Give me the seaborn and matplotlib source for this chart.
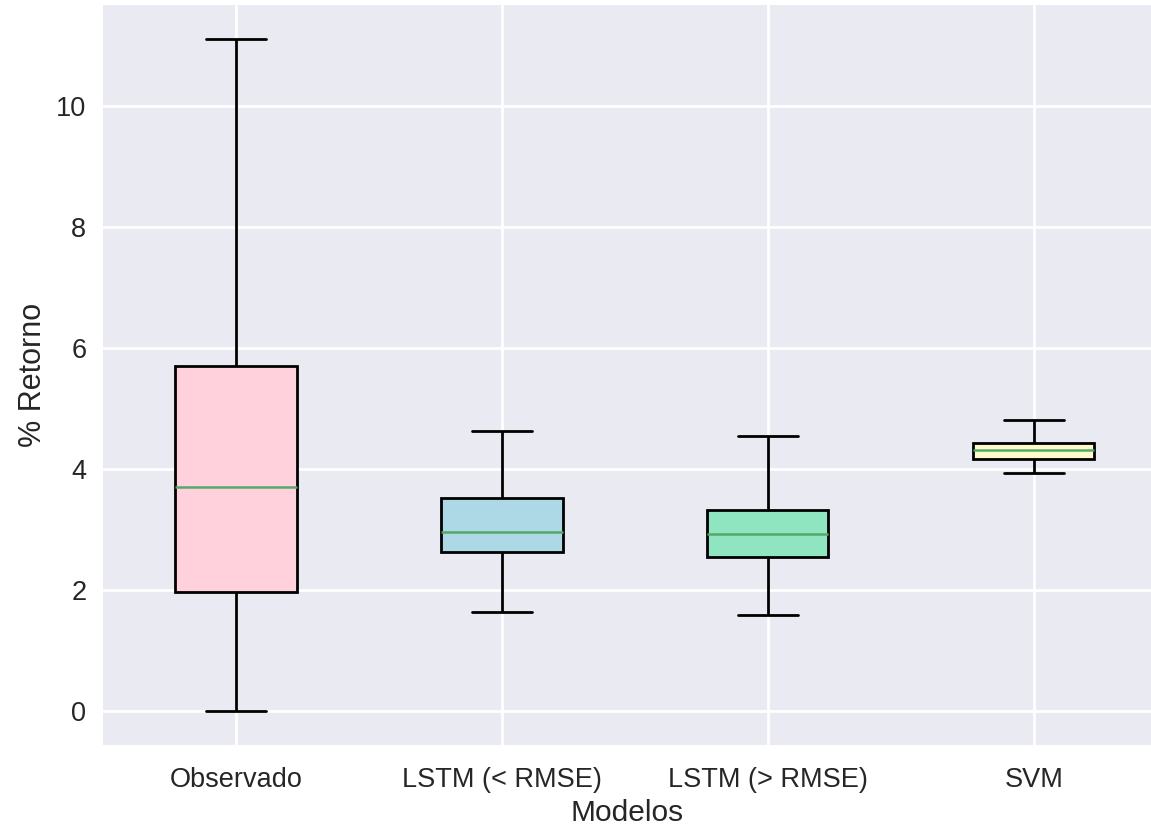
import numpy as np
import pandas as pd
import matplotlib
matplotlib.use("Agg")
import matplotlib.pyplot as plt
import seaborn as sns

categories = ["Observado", "LSTM (< RMSE)", "LSTM (> RMSE)", "SVM"]
# five-number summaries: min, q1, median, q3, max
obs_vals = [0.00, 1.98, 3.71, 5.71, 11.11]
lstm_lo_vals = [1.64, 2.63, 2.96, 3.52, 4.64]
lstm_hi_vals = [1.60, 2.55, 2.93, 3.33, 4.55]
svm_vals = [3.93, 4.17, 4.31, 4.43, 4.81]
colors = ["#FFD1DC", "#ADD8E6", "#8EE5C0", "#FDFBCB"]

rows = []
for cat, vals in zip(categories, [obs_vals, lstm_lo_vals, lstm_hi_vals, svm_vals]):
    for v in vals:
        rows.append({"Modelos": cat, "Retorno": v})
df = pd.DataFrame(rows)

sns.set_theme(style="darkgrid")
plt.rcParams['font.family'] = ['Liberation Sans', 'DejaVu Sans']

fig = plt.figure(figsize=(11.51, 8.26), dpi=100)
ax = fig.add_axes([0.0895, 0.098, 1 - 0.0895, 0.994 - 0.098])

sns.boxplot(data=df, x="Modelos", y="Retorno", hue="Modelos", palette=colors,
            order=categories, hue_order=categories, legend=False,
            width=0.455, whis=(0, 100), saturation=1, ax=ax,
            boxprops=dict(edgecolor="black", linewidth=2),
            whiskerprops=dict(color="black", linewidth=2),
            capprops=dict(color="black", linewidth=2),
            medianprops=dict(color="#55A868", linewidth=1.8))

ax.set_xlim(-0.5, 3.44)
ax.set_ylim(-0.556, 11.67)
ax.set_yticks([0, 2, 4, 6, 8, 10])
ax.grid(True, color="white", linewidth=2)
ax.set_xlabel("Modelos", fontsize=21.5, color="#262626", labelpad=4)
ax.set_ylabel("% Retorno", fontsize=22, color="#262626", labelpad=6)
ax.tick_params(axis="both", labelsize=19.5, colors="#262626", length=0)
ax.tick_params(axis="x", pad=16)
ax.tick_params(axis="y", pad=12)
for s in ax.spines.values():
    s.set_visible(False)

fig.savefig("out.png", dpi=100)
